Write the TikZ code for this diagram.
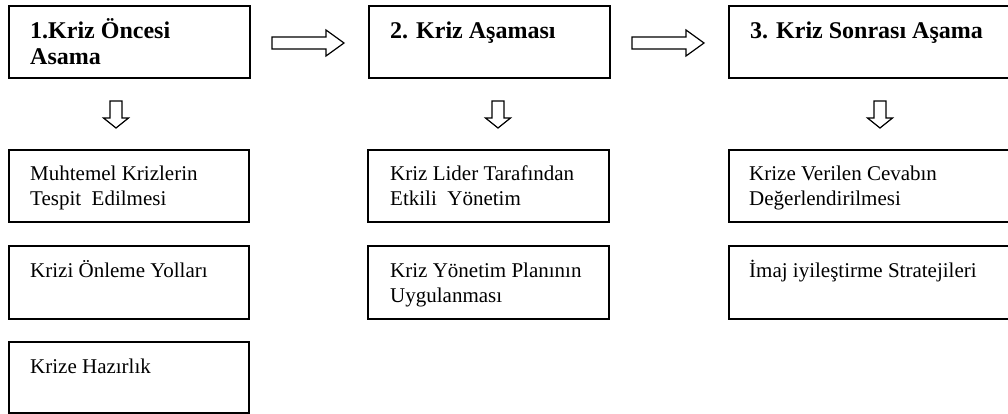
\documentclass[tikz,border=0pt]{standalone}
\usepackage{fontspec}
\setmainfont{Liberation Serif}
\tikzset{
  box/.style={draw=black, line width=1.8pt, rectangle, inner sep=0pt, fill=white},
  head/.style={anchor=base west, inner sep=0pt, align=left, font=\fontsize{24}{26}\selectfont\bfseries},
  txt/.style={anchor=base west, inner sep=0pt, align=left, font=\fontsize{21}{25}\selectfont},
  blockarrow/.style={draw=black, line width=1.2pt, fill=white, line join=miter}
}
\begin{document}
\begin{tikzpicture}[x=1pt, y=-1pt]
\useasboundingbox (0,0) rectangle (1008,414);
\clip (0,0) rectangle (1008,414);
% header boxes
\node[box, minimum width=241pt, minimum height=72pt] (h1) at (129.5,42) {};
\node[box, minimum width=241pt, minimum height=72pt] (h2) at (489.5,42) {};
\node[box, minimum width=291pt, minimum height=72pt] (h3) at (874.5,42) {};
% base anchor = baseline of the last line
\node[head] (th1) at (30,65) {1.Kriz Öncesi\\Asama};
\node[head] (th2) at (390,39) {2. Kriz Aşaması};
\node[head] (th3) at (750,39) {3. Kriz Sonrası Aşama};
% right block arrows
\foreach \dx/\n in {0/ra1, 360/ra2}{
  \draw[blockarrow] (272+\dx,37) -- (326+\dx,37) -- (326+\dx,30) -- (344+\dx,43)
     -- (326+\dx,56) -- (326+\dx,49) -- (272+\dx,49) -- cycle;
}
% down block arrows
\foreach \c in {116, 498, 880}{
  \draw[blockarrow] (\c-6,101) -- (\c+6,101) -- (\c+6,118) -- (\c+12.5,118)
     -- (\c,128) -- (\c-12.5,118) -- (\c-6,118) -- cycle;
}
% column 1
\node[box, minimum width=240pt, minimum height=72pt] (a1) at (129,186) {};
\node[box, minimum width=240pt, minimum height=73pt] (b1) at (129,282.5) {};
\node[box, minimum width=240pt, minimum height=71pt] (c1) at (129,377.5) {};
\node[txt] (ta1) at (30,205) {Muhtemel Krizlerin\\Tespit\ \ Edilmesi};
\node[txt] (tb1) at (30,277) {Krizi Önleme Yolları};
\node[txt] (tc1) at (30,373) {Krize Hazırlık};
% column 2
\node[box, minimum width=241pt, minimum height=72pt] (a2) at (488.5,186) {};
\node[box, minimum width=241pt, minimum height=73pt] (b2) at (488.5,282.5) {};
\node[txt] (ta2) at (390,205) {Kriz Lider Tarafından\\Etkili\ \ Yönetim};
\node[txt] (tb2) at (390,302) {Kriz Yönetim Planının\\Uygulanması};
% column 3
\node[box, minimum width=291pt, minimum height=72pt] (a3) at (874.5,186) {};
\node[box, minimum width=291pt, minimum height=73pt] (b3) at (874.5,282.5) {};
\node[txt] (ta3) at (749,205) {Krize Verilen Cevabın\\Değerlendirilmesi};
\node[txt] (tb3) at (749,277) {İmaj iyileştirme Stratejileri};
\end{tikzpicture}
\end{document}
